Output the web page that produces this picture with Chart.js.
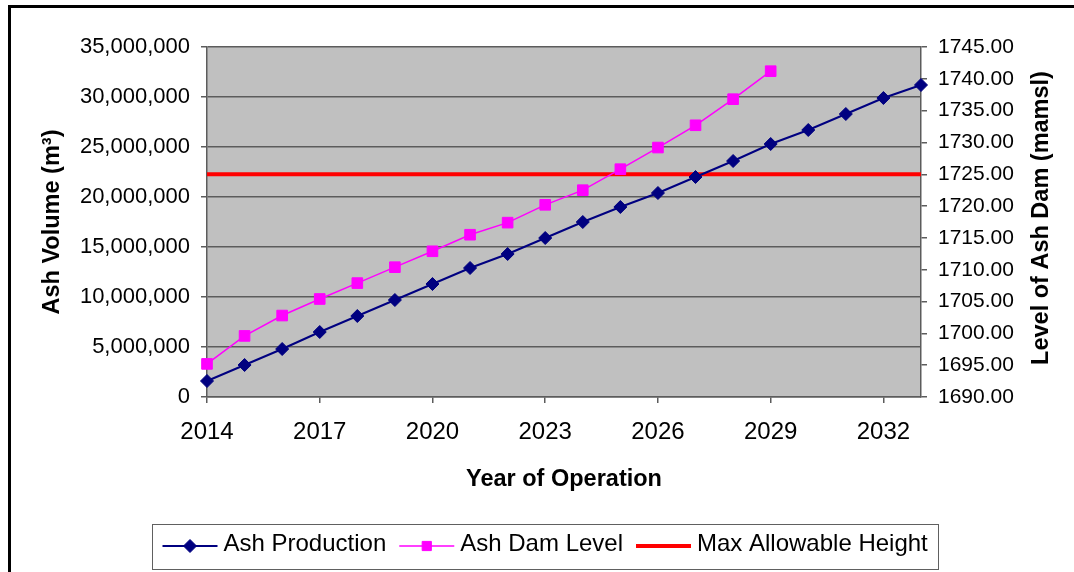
<!DOCTYPE html>
<html>
<head>
<meta charset="utf-8">
<script src="https://cdn.jsdelivr.net/npm/chart.js@4.4.1/dist/chart.umd.min.js"></script>
<style>
  html, body { margin: 0; padding: 0; background: #ffffff; }
  canvas { display: block; }
</style>
</head>
<body>
<canvas id="chart" width="1074" height="572"></canvas>
<script>
// Years of operation
const years = ['2014', '2015', '2016', '2017', '2018', '2019', '2020', '2021', '2022', '2023',
               '2024', '2025', '2026', '2027', '2028', '2029', '2030', '2031', '2032', '2033'];

// Cumulative ash volume (m3)
const ashProduction = [1600000, 3200000, 4800000, 6500000, 8100000, 9700000, 11300000, 12900000,
                       14300000, 15900000, 17500000, 19000000, 20400000, 22000000, 23600000,
                       25300000, 26700000, 28300000, 29900000, 31200000];

// Ash dam crest level (mamsl), 2014-2029
const ashDamLevel = [1695.2, 1699.6, 1702.8, 1705.4, 1707.9, 1710.4, 1712.9, 1715.5,
                     1717.4, 1720.2, 1722.5, 1725.8, 1729.2, 1732.7, 1736.8, 1741.2];

// Maximum allowable dam height (mamsl)
const maxAllowableHeight = [1725, 1725, 1725, 1725, 1725, 1725, 1725, 1725, 1725, 1725,
                            1725, 1725, 1725, 1725, 1725, 1725, 1725, 1725, 1725, 1725];

// Axis ranges and tick steps
const volumeRange = [0, 35000000, 5000000];
const levelRange = [1690, 1745, 5];

const levelTitle = 'Level of Ash Dam (mamsl)';

const FONT = "'Liberation Sans', Arial, Helvetica, sans-serif";
const GRID = '#5c5c5c';
const TITLE_SIZE = 23.5;

// Grey plot background
const plotBackground = {
  id: 'plotBackground',
  beforeDraw(chart) {
    const { ctx, chartArea: a } = chart;
    ctx.save();
    ctx.fillStyle = '#c0c0c0';
    ctx.fillRect(a.left, a.top, a.right - a.left, a.bottom - a.top);
    ctx.restore();
  }
};

// Right axis title, reading bottom to top
const rightTitle = {
  id: 'rightTitle',
  afterDraw(chart) {
    const { ctx, chartArea: a } = chart;
    const s = chart.scales.y1;
    ctx.save();
    ctx.translate(s.right - 32, (a.top + a.bottom) / 2 - 4);
    ctx.rotate(-Math.PI / 2);
    ctx.font = 'bold ' + TITLE_SIZE + 'px ' + FONT;
    ctx.fillStyle = '#000000';
    ctx.textAlign = 'center';
    ctx.textBaseline = 'middle';
    ctx.fillText(levelTitle, 0, 0);
    ctx.restore();
  }
};

// Outer frame round the whole chart
const outerFrame = {
  id: 'outerFrame',
  afterDraw(chart) {
    const { ctx } = chart;
    ctx.save();
    ctx.strokeStyle = '#000000';
    ctx.lineWidth = 3;
    ctx.strokeRect(9.5, 6.5, 3000, 3000);
    ctx.restore();
  }
};

// Boxed legend: line sample with marker, then label
const boxedLegend = {
  id: 'boxedLegend',
  afterDraw(chart) {
    const { ctx } = chart;
    const sets = chart.data.datasets;
    const cy = 546;
    const lineLen = 55, gapLine = 6, gapItem = 13, padL = 10, padR = 11;
    ctx.save();
    ctx.font = '24px ' + FONT;
    const widths = sets.map(d => ctx.measureText(d.label).width);
    let total = padL + padR;
    widths.forEach((w, i) => { total += lineLen + gapLine + w + (i < widths.length - 1 ? gapItem : 0); });
    const boxLeft = Math.round(545 - total / 2) + 0.5;
    ctx.strokeStyle = '#606060';
    ctx.lineWidth = 1;
    ctx.strokeRect(boxLeft, 524.5, Math.round(total), 45);
    let x = boxLeft + padL;
    sets.forEach((d, i) => {
      ctx.strokeStyle = d.borderColor;
      ctx.lineWidth = d.borderWidth;
      ctx.beginPath();
      ctx.moveTo(x, cy);
      ctx.lineTo(x + lineLen, cy);
      ctx.stroke();
      if (d.pointRadius > 0) {
        ctx.fillStyle = d.backgroundColor;
        ctx.strokeStyle = d.pointBorderColor;
        ctx.lineWidth = d.pointBorderWidth;
        Chart.helpers.drawPoint(ctx, {
          pointStyle: d.pointStyle,
          radius: d.pointStyle === 'rectRot' ? d.pointRadius : d.pointRadius - 1,
          borderWidth: d.pointBorderWidth,
          rotation: 0
        }, x + lineLen / 2, cy);
      }
      ctx.fillStyle = '#000000';
      ctx.textBaseline = 'middle';
      ctx.textAlign = 'left';
      ctx.fillText(d.label, x + lineLen + gapLine, cy - 2);
      x += lineLen + gapLine + widths[i] + gapItem;
    });
    ctx.restore();
  }
};

const ctx = document.getElementById('chart').getContext('2d');
new Chart(ctx, {
  type: 'line',
  data: {
    labels: years,
    datasets: [
      {
        label: 'Ash Production',
        data: ashProduction,
        yAxisID: 'y',
        borderColor: '#000080',
        backgroundColor: '#000080',
        pointBorderColor: '#000080',
        borderWidth: 2,
        pointStyle: 'rectRot',
        pointRadius: 6.5,
        pointBorderWidth: 1,
        tension: 0,
        clip: false
      },
      {
        label: 'Ash Dam Level',
        data: ashDamLevel,
        yAxisID: 'y1',
        borderColor: '#ff00ff',
        backgroundColor: '#ff00ff',
        pointBorderColor: '#ff00ff',
        borderWidth: 1.5,
        pointStyle: 'rect',
        pointRadius: 7.5,
        pointBorderWidth: 1,
        tension: 0,
        clip: false
      },
      {
        label: 'Max Allowable Height',
        data: maxAllowableHeight,
        yAxisID: 'y1',
        borderColor: '#ff0000',
        backgroundColor: '#ff0000',
        borderWidth: 4,
        pointRadius: 0,
        tension: 0,
        clip: false
      }
    ]
  },
  options: {
    responsive: false,
    animation: false,
    devicePixelRatio: 1,
    layout: { padding: { top: 47, left: 0, right: 0, bottom: 0 } },
    plugins: {
      legend: { display: false },
      tooltip: { enabled: false }
    },
    scales: {
      x: {
        type: 'category',
        offset: false,
        grid: {
          drawOnChartArea: false,
          tickLength: 6,
          lineWidth: 1.5,
          tickColor: c => (c.index % 3 === 0 ? GRID : 'rgba(0,0,0,0)')
        },
        border: { color: GRID, width: 1.5 },
        ticks: {
          autoSkip: false,
          maxRotation: 0,
          padding: 15,
          color: '#000000',
          font: { family: FONT, size: 24 },
          callback: (v, i) => (i % 3 === 0 ? years[i] : '')
        },
        title: {
          display: true,
          text: 'Year of Operation',
          color: '#000000',
          font: { family: FONT, size: TITLE_SIZE, weight: 'bold' },
          padding: { top: 0, bottom: 78 }
        },
        afterFit: s => { s.height = 175; }
      },
      y: {
        position: 'left',
        min: volumeRange[0],
        max: volumeRange[1],
        grid: { color: GRID, lineWidth: 1.5, tickLength: 6 },
        border: { color: GRID, width: 1.5 },
        ticks: {
          stepSize: volumeRange[2],
          padding: 11,
          color: '#000000',
          font: { family: FONT, size: 22 },
          callback: v => v.toLocaleString('en-US')
        },
        title: {
          display: true,
          text: 'Ash Volume (m³)',
          color: '#000000',
          font: { family: FONT, size: TITLE_SIZE, weight: 'bold' },
          padding: { top: 38, bottom: 0 }
        },
        afterFit: s => { s.width = 207; }
      },
      y1: {
        position: 'right',
        min: levelRange[0],
        max: levelRange[1],
        grid: { drawOnChartArea: false, color: GRID, lineWidth: 1.5, tickLength: 6 },
        border: { color: GRID, width: 1.5 },
        ticks: {
          stepSize: levelRange[2],
          padding: 11,
          color: '#000000',
          font: { family: FONT, size: 21 },
          callback: v => v.toFixed(2)
        },
        title: { display: false },
        afterFit: s => { s.width = 153; }
      }
    }
  },
  plugins: [plotBackground, outerFrame, rightTitle, boxedLegend]
});
</script>
</body>
</html>
